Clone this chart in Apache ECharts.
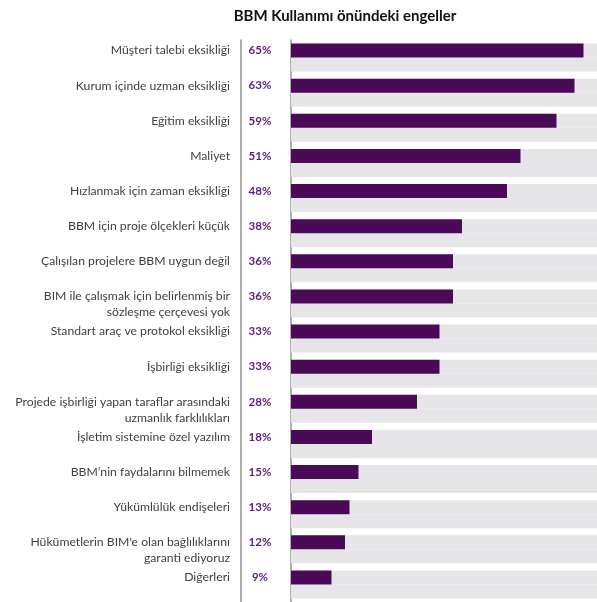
<!DOCTYPE html>
<html style="height: 100%">
<head>
	<meta charset="utf-8">
</head>
<body style="height: 100%; margin: 0; background: #fff">
<div id="container" style="width: 597px; height: 602px"></div>
<script type="text/javascript" src="https://cdn.jsdelivr.net/npm/echarts@6/dist/echarts.min.js"></script>
<script type="text/javascript">
    var dom = document.getElementById("container");
    var myChart = echarts.init(dom);

    var categories = [
        'Müşteri talebi eksikliği',
        'Kurum içinde uzman eksikliği',
        'Eğitim eksikliği',
        'Maliyet',
        'Hızlanmak için zaman eksikliği',
        'BBM için proje ölçekleri küçük',
        'Çalışılan projelere BBM uygun değil',
        'BIM ile çalışmak için belirlenmiş bir\nsözleşme çerçevesi yok',
        'Standart araç ve protokol eksikliği',
        'İşbirliği eksikliği',
        'Projede işbirliği yapan taraflar arasındaki\nuzmanlık farklılıkları',
        'İşletim sistemine özel yazılım',
        'BBM’nin faydalarını bilmemek',
        'Yükümlülük endişeleri',
        'Hükümetlerin BIM\'e olan bağlılıklarını\ngaranti ediyoruz',
        'Diğerleri'
    ];
    var values = [65, 63, 59, 51, 48, 38, 36, 36, 33, 33, 28, 18, 15, 13, 12, 9];

    var purple = '#4a0a57';
    var grey = '#e6e6e8';

    var option = {
        backgroundColor: '#fff',
        animation: false,
        title: {
            text: 'BBM Kullanımı önündeki engeller',
            left: 340,
            top: 4,
            textAlign: 'center',
            textStyle: {
                fontFamily: 'Lato',
                fontSize: 15,
                fontWeight: 'bold',
                color: '#111'
            }
        },
        grid: {
            left: 291,
            right: 0,
            top: 40,
            bottom: 0
        },
        xAxis: {
            type: 'value',
            min: 0,
            max: 68,
            show: false
        },
        yAxis: [{
            type: 'category',
            data: categories,
            inverse: true,
            offset: 8,
            axisLine: { lineStyle: { color: '#949494', width: 1.5 } },
            axisTick: { show: false },
            axisLabel: { show: false }
        }, {
            type: 'category',
            data: categories,
            inverse: true,
            position: 'left',
            offset: 50,
            axisLine: { lineStyle: { color: '#949494', width: 1.5 } },
            axisTick: { show: false },
            axisLabel: { show: false }
        }],
        series: [{
            type: 'bar',
            data: values,
            barWidth: 14,
            barGap: '0%',
            itemStyle: { color: purple },
            showBackground: true,
            backgroundStyle: { color: grey },
            label: {
                show: true,
                position: [-31, 7],
                align: 'center',
                verticalAlign: 'middle',
                formatter: '{c}%',
                fontFamily: 'Lato',
                fontSize: 11.5,
                fontWeight: 'bold',
                color: '#5a1f78'
            }
        }, {
            type: 'bar',
            data: values,
            barWidth: 14,
            barGap: '0%',
            itemStyle: { color: 'rgba(0,0,0,0)' },
            showBackground: true,
            backgroundStyle: { color: grey },
            label: {
                show: true,
                position: [-61, -15],
                align: 'right',
                verticalAlign: 'top',
                lineHeight: 16,
                formatter: '{b}',
                fontFamily: 'Lato',
                fontSize: 12.2,
                color: '#404040'
            }
        }]
    };

    myChart.setOption(option, true);
</script>
</body>
</html>
